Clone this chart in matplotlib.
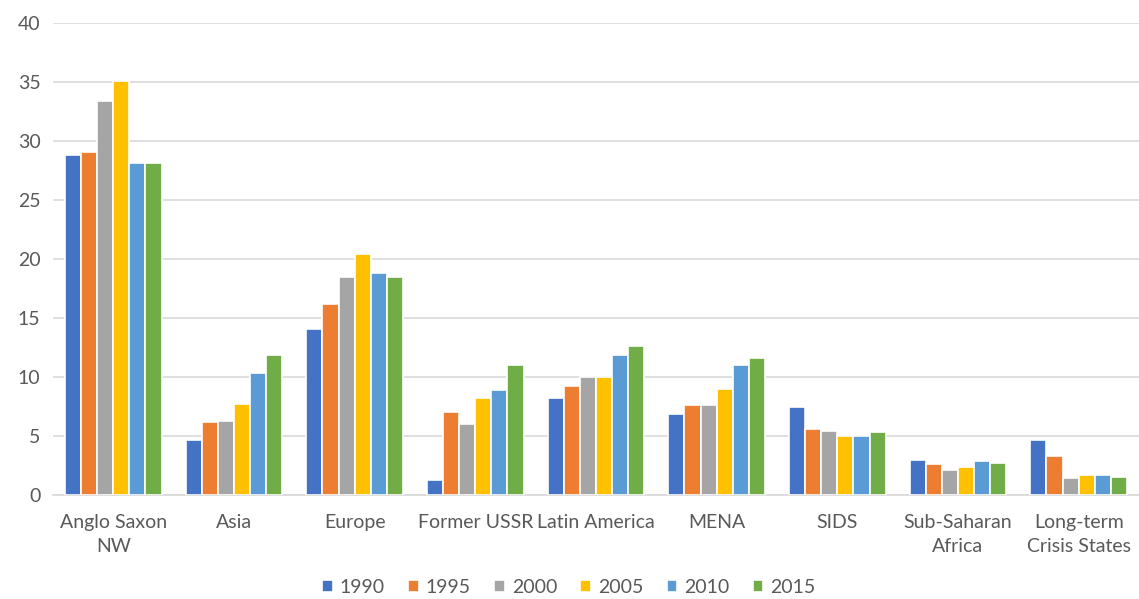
import numpy as np
import matplotlib.pyplot as plt

# Regions and per-year values
regions = ["Anglo Saxon\nNW", "Asia", "Europe", "Former USSR", "Latin America",
           "MENA", "SIDS", "Sub-Saharan\nAfrica", "Long-term\nCrisis States"]
years = ["1990", "1995", "2000", "2005", "2010", "2015"]

v1990 = [28.8, 4.7, 14.1, 1.3, 8.2, 6.9, 7.5, 3.0, 4.7]
v1995 = [29.1, 6.2, 16.2, 7.0, 9.2, 7.6, 5.6, 2.6, 3.3]
v2000 = [33.4, 6.3, 18.5, 6.0, 10.0, 7.6, 5.4, 2.1, 1.4]
v2005 = [35.1, 7.7, 20.4, 8.2, 10.0, 9.0, 5.0, 2.4, 1.7]
v2010 = [28.1, 10.3, 18.8, 8.9, 11.9, 11.0, 5.0, 2.9, 1.7]
v2015 = [28.1, 11.9, 18.5, 11.0, 12.6, 11.6, 5.3, 2.7, 1.55]
series = [v1990, v1995, v2000, v2005, v2010, v2015]

colors = ["#4472C4", "#ED7D31", "#A5A5A5", "#FFC000", "#5B9BD5", "#70AD47"]

plt.rcParams['font.family'] = ['Lato', 'DejaVu Sans']

fig = plt.figure(figsize=(11.39, 5.99), dpi=100)
ax = fig.add_axes([0.0465, 0.1736, 0.9535, 0.788])

x = np.arange(len(regions))
slot = 0.8 / len(years)
for i, (yr, vals) in enumerate(zip(years, series)):
    offs = (i - (len(years) - 1) / 2) * slot
    ax.bar(x + offs, vals, width=slot, color=colors[i], label=yr,
           edgecolor="white", linewidth=1.2, zorder=3)

ax.set_xlim(-0.5, len(regions) - 0.5)
ax.set_ylim(0, 40)
ax.set_yticks(range(0, 41, 5))
ax.yaxis.grid(True, color="#D9D9D9", linewidth=1.2, zorder=0)
for s in ["top", "right", "left"]:
    ax.spines[s].set_visible(False)
ax.spines["bottom"].set_color("#D9D9D9")
ax.spines["bottom"].set_linewidth(1.2)
ax.tick_params(axis="y", length=0, labelsize=14, colors="#595959", pad=9)
ax.tick_params(axis="x", length=0, labelsize=14, colors="#595959", pad=14)
ax.set_xticks(x)
ax.set_xticklabels(regions, va="top", linespacing=1.45)

leg = ax.legend(loc="upper center", bbox_to_anchor=(0.475, -0.14), ncol=6,
                frameon=False, fontsize=14, handlelength=0.55, handleheight=0.55,
                handletextpad=0.35, columnspacing=1.2)
for t in leg.get_texts():
    t.set_color("#595959")

plt.savefig("out.png", dpi=100)
